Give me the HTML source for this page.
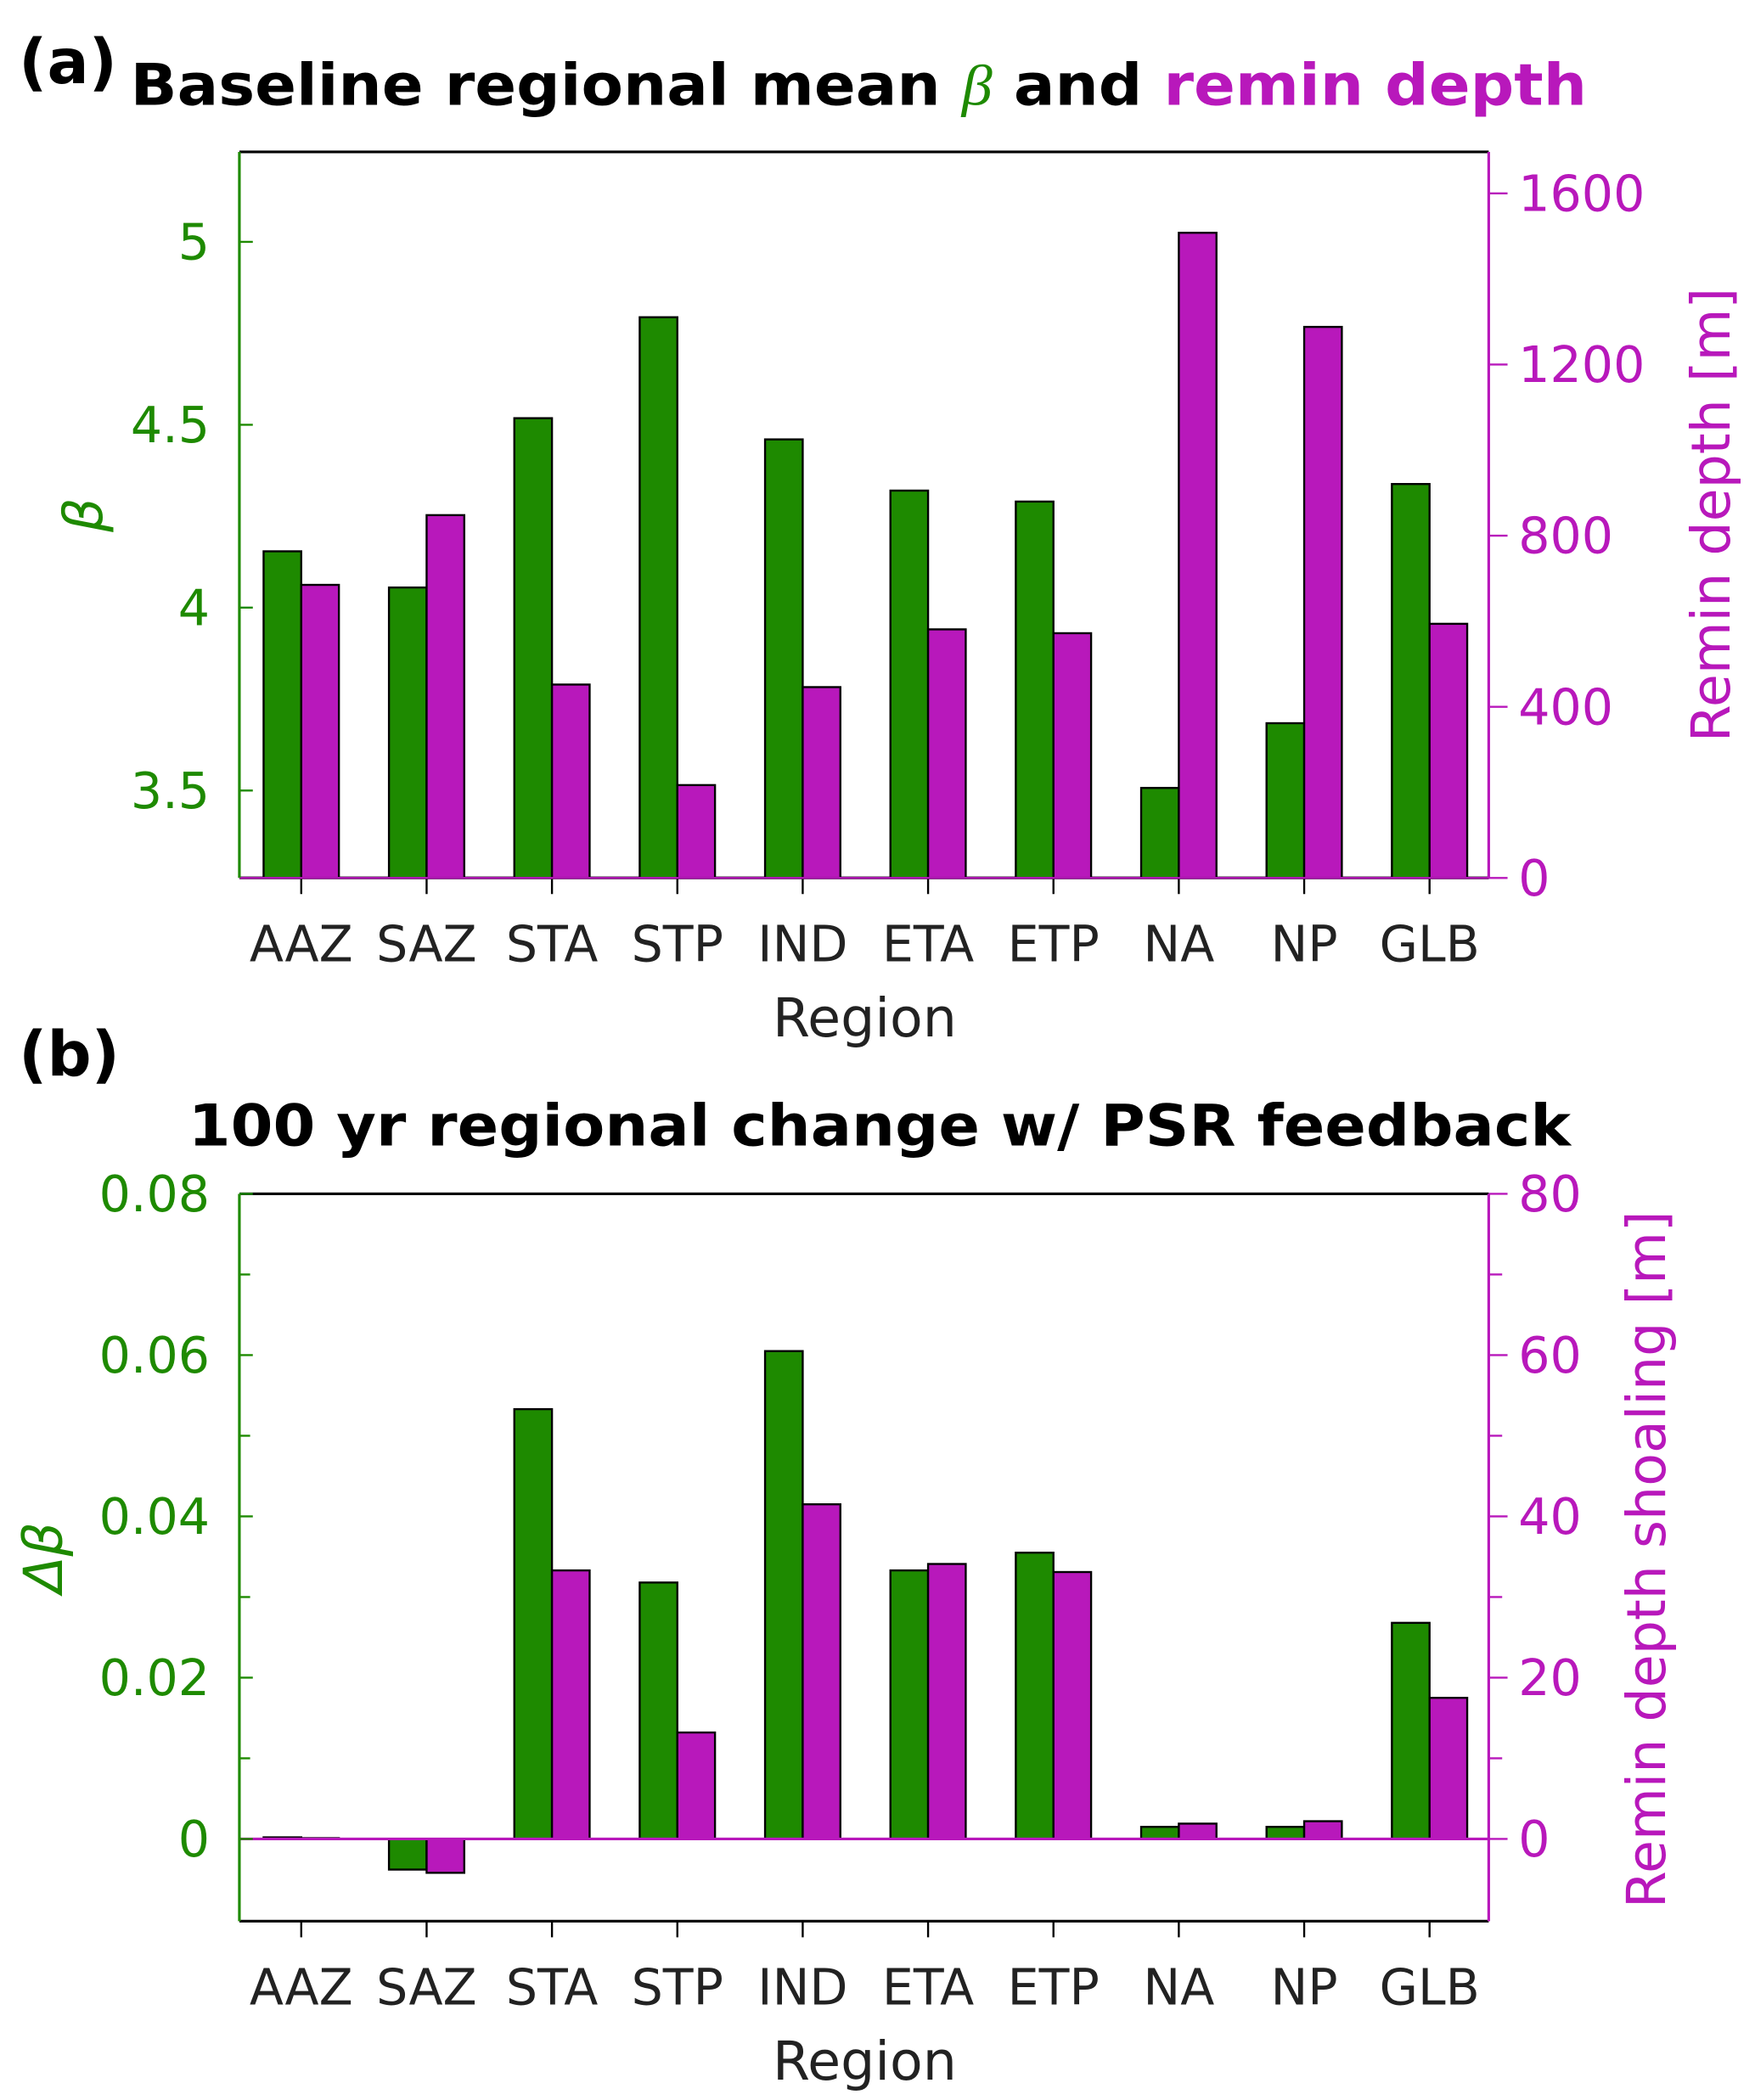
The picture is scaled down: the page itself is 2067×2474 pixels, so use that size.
<!DOCTYPE html>
<html><head><meta charset="utf-8"><style>
html,body{margin:0;padding:0;background:#fff;}
svg{display:block;}
text{font-family:"DejaVu Sans","Liberation Sans",sans-serif;}
</style></head><body>
<svg id="fig" width="2067" height="2474" viewBox="0 0 1305 1562" preserveAspectRatio="none" xmlns="http://www.w3.org/2000/svg">
<text x="14" y="62" font-size="46" font-weight="bold" font-family="Liberation Sans">(a)</text>
<text x="97" y="78" font-size="43" font-weight="bold" textLength="1083" lengthAdjust="spacingAndGlyphs">Baseline regional mean <tspan fill="#1e8a00" font-style="italic" font-weight="normal" font-family="Liberation Serif">β</tspan> and <tspan fill="#b818bb">remin depth</tspan></text>
<text x="14" y="800" font-size="46" font-weight="bold" font-family="Liberation Sans">(b)</text>
<text x="140" y="852" font-size="43" font-weight="bold" textLength="1028" lengthAdjust="spacingAndGlyphs">100 yr regional change w/ PSR feedback</text>
<g id="pa"></g>
<g id="pb"></g>
</svg>
<script>
const categories=["AAZ","SAZ","STA","STP","IND","ETA","ETP","NA","NP","GLB"];
const betaValues=[4.154,4.055,4.518,4.794,4.46,4.32,4.29,3.507,3.684,4.338];
const reminDepth=[685,848,452,217,446,581,572,1508,1288,594];
const dBetaValues=[0.0002,-0.0038,0.0533,0.0318,0.0605,0.0333,0.0355,0.0015,0.0015,0.0268];
const shoalingValues=[0.1,-4.2,33.3,13.2,41.5,34.1,33.1,1.9,2.2,17.5];
const aLeftTicks=[3.5,4,4.5,5];
const aLeftTickLabels=["3.5","4","4.5","5"];
const aRightTicks=[0,400,800,1200,1600];
const aRightTickLabels=["0","400","800","1200","1600"];
const bLeftTicks=[0,0.02,0.04,0.06,0.08];
const bLeftTickLabels=["0","0.02","0.04","0.06","0.08"];
const bRightTicks=[0,20,40,60,80];
const bRightTickLabels=["0","20","40","60","80"];

const G="#1e8a00",M="#b818bb",NS="http://www.w3.org/2000/svg";
function mk(parent,tag,attrs,txt){const e=document.createElementNS(NS,tag);for(const k in attrs)e.setAttribute(k,attrs[k]);if(txt!==undefined)e.textContent=txt;parent.appendChild(e);return e;}

function panel(g,cfg){
  const L=178,R=1107,T=cfg.top,B=cfg.bottom;
  const yl=v=>B-(v-cfg.lmin)/(cfg.lmax-cfg.lmin)*(B-T);
  const yr=v=>B-(v-cfg.rmin)/(cfg.rmax-cfg.rmin)*(B-T);
  const xc=i=>224+i*(1063-224)/9;
  const bw=28;
  // frame
  let e=mk(g,'line',{x1:L,y1:T,x2:R,y2:T,stroke:'#000','stroke-width':2});
  
  e=mk(g,'line',{x1:L,y1:B,x2:R,y2:B,stroke:'#000','stroke-width':2});
  
  // bars
  categories.forEach((c,i)=>{
    const y0=yl(cfg.lbase),y1=yl(cfg.left[i]);
    let r=mk(g,'rect',{x:xc(i)-bw,y:Math.min(y0,y1),width:bw,height:Math.abs(y1-y0),fill:G,stroke:'#000','stroke-width':1.5});
    
    
    const z0=yr(0),z1=yr(cfg.right[i]);
    r=mk(g,'rect',{x:xc(i),y:Math.min(z0,z1),width:bw,height:Math.abs(z1-z0),fill:M,stroke:'#000','stroke-width':1.5});
    
    
    let t=mk(g,'line',{x1:xc(i),y1:B,x2:xc(i),y2:B+12,stroke:'#000','stroke-width':1.5});
    
    t=mk(g,'text',{x:xc(i),y:B+62,'font-size':37,'text-anchor':'middle',fill:'#222'},c);
    
  });
  if(cfg.zeroLine){
    e=mk(g,'line',{x1:L,y1:yr(0),x2:R,y2:yr(0),stroke:M,'stroke-width':2});
    
  } else {
    e=mk(g,'line',{x1:L,y1:B,x2:R,y2:B,stroke:M,'stroke-width':1.5});
    
  }
  // left axis
  e=mk(g,'line',{x1:L,y1:T,x2:L,y2:B,stroke:G,'stroke-width':2});
  
  cfg.lticks.forEach((v,i)=>{
    let t=mk(g,'line',{x1:L,y1:yl(v),x2:L+10,y2:yl(v),stroke:G,'stroke-width':1.5});
    
    t=mk(g,'text',{x:L-22,y:yl(v)+13,'font-size':37,'text-anchor':'end',fill:G},cfg.ltl[i]);
    
  });
  (cfg.lminor||[]).forEach(v=>{
    let t=mk(g,'line',{x1:L,y1:yl(v),x2:L+8,y2:yl(v),stroke:G,'stroke-width':1.5});
    
  });
  // right axis
  e=mk(g,'line',{x1:R,y1:T,x2:R,y2:B,stroke:M,'stroke-width':2});
  
  cfg.rticks.forEach((v,i)=>{
    let t=mk(g,'line',{x1:R,y1:yr(v),x2:R+14,y2:yr(v),stroke:M,'stroke-width':1.5});
    
    t=mk(g,'text',{x:R+22,y:yr(v)+13,'font-size':37,fill:M},cfg.rtl[i]);
    
  });
  (cfg.rminor||[]).forEach(v=>{
    let t=mk(g,'line',{x1:R,y1:yr(v),x2:R+10,y2:yr(v),stroke:M,'stroke-width':1.5});
    
  });
  let t=mk(g,'text',{x:643,y:B+118,'font-size':40,'text-anchor':'middle',fill:'#222'},'Region');
  
  t=mk(g,'text',{x:0,y:0,'font-size':40,'text-anchor':'middle',fill:G,'font-family':'Liberation Serif','font-style':'italic',transform:`translate(${cfg.llx},${(T+B)/2}) rotate(-90)`},cfg.ltitle);
  
  t=mk(g,'text',{x:0,y:0,'font-size':40,'text-anchor':'middle',fill:M,transform:`translate(${cfg.rlx},${cfg.rly}) rotate(-90)`},cfg.rtitle);
  
}
panel(document.getElementById('pa'),{top:113,bottom:653,lmin:3.261,lmax:5.246,rmin:0,rmax:1697,lbase:3.261,
  left:betaValues,right:reminDepth,lticks:aLeftTicks,ltl:aLeftTickLabels,rticks:aRightTicks,rtl:aRightTickLabels,
  llx:76,ltitle:'β',rlx:1286,rly:383,rtitle:'Remin depth [m]'});
panel(document.getElementById('pb'),{top:888,bottom:1429,lmin:-0.0102,lmax:0.08,rmin:-10.2,rmax:80,lbase:0,zeroLine:true,
  left:dBetaValues,right:shoalingValues,lticks:bLeftTicks,ltl:bLeftTickLabels,rticks:bRightTicks,rtl:bRightTickLabels,
  lminor:[0.01,0.03,0.05,0.07],rminor:[10,30,50,70],
  llx:46,ltitle:'Δβ',rlx:1238,rly:1160,rtitle:'Remin depth shoaling [m]'});
</script>
</body></html>
